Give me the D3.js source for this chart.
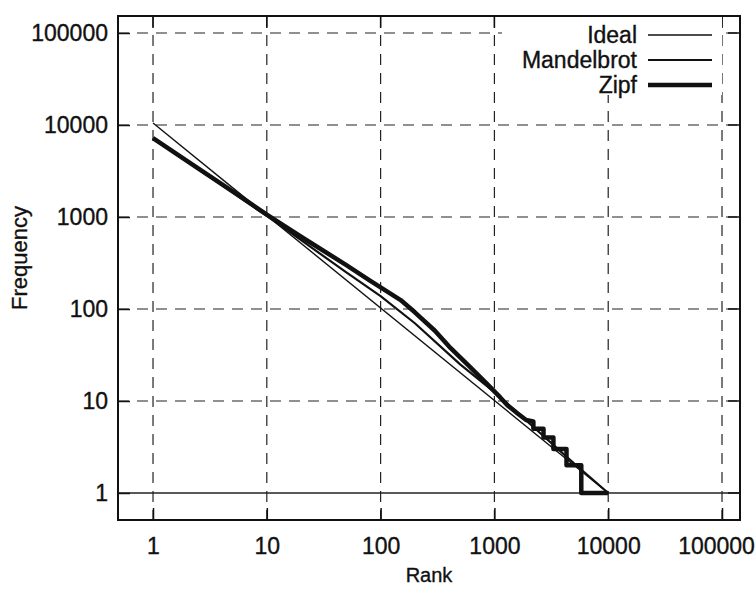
<!DOCTYPE html>
<html>
<head>
<meta charset="utf-8">
<script src="https://cdn.jsdelivr.net/npm/d3@7"></script>
<style>
  body { margin: 0; background: #fff; }
  text { font-family: "Liberation Sans", Arial, sans-serif; fill: #111; stroke: #111; stroke-width: 0.35px; }
</style>
</head>
<body>
<div id="chart"></div>
<script>
// chart data
var tickValues = [1, 10, 100, 1000, 10000, 100000];
var tickLabels = ["1", "10", "100", "1000", "10000", "100000"];

var idealRank = [1, 10000];
var idealFreq = [10500, 1];

var mandelRank = [1, 2, 5, 10, 20, 50, 100, 200, 500, 1000, 2000, 5000, 10000];
var mandelFreq = [7200, 4000, 1850, 1030, 560, 250, 138, 70, 25, 12.5, 5.8, 2.1, 1];

var zipfRank = [1, 2, 5, 10, 20, 50, 80, 100, 150, 200, 300, 400, 600, 900, 1120, 1300, 1600, 1900,
                2200, 2200, 2700, 2700, 3300, 3300, 4300, 4300, 5800, 5800, 10000];
var zipfFreq = [7200, 4050, 1900, 1060, 610, 300, 205, 172, 125, 92, 58, 39, 24, 14.5, 11, 9, 7.3, 6.2,
                6, 5, 5, 4, 4, 3, 3, 2, 2, 1, 1];

var seriesNames = ["Ideal", "Mandelbrot", "Zipf"];
var seriesWidth = [1.4, 2.2, 4.5];

var width = 755,
    height = 590;

// plot frame in pixels
var plotLeft = 118, plotRight = 740, plotTop = 16, plotBottom = 520;

var svg = d3.select("#chart")
  .append("svg")
    .attr("width", width)
    .attr("height", height);

// log scales; decades sit at fixed pixel spots of the picture
var x = d3.scaleLog()
    .domain([0.4924, 143900])
    .range([plotLeft, plotRight]);

var y = d3.scaleLog()
    .domain([0.5086, 153000])
    .range([plotBottom, plotTop]);

// dashed grid
svg.append("g")
  .selectAll("line")
  .data(tickValues)
  .enter()
  .append("line")
    .attr("x1", function(d) { return x(d); })
    .attr("x2", function(d) { return x(d); })
    .attr("y1", plotTop)
    .attr("y2", plotBottom)
    .attr("stroke", "#222")
    .attr("stroke-width", 1.2)
    .attr("stroke-dasharray", "11,8");

svg.append("g")
  .selectAll("line")
  .data(tickValues)
  .enter()
  .append("line")
    .attr("x1", plotLeft)
    .attr("x2", plotRight)
    .attr("y1", function(d) { return y(d); })
    .attr("y2", function(d) { return y(d); })
    .attr("stroke", "#222")
    .attr("stroke-width", function(d) { return d == 1 ? 1.6 : 1.2; })
    .attr("stroke-dasharray", function(d) { return d == 1 ? null : "11,8"; });

// axes with inward ticks
var xAxis = d3.axisBottom(x)
    .tickValues(tickValues)
    .tickFormat(function(d, i) { return tickLabels[i]; })
    .tickSize(-12)
    .tickPadding(18);

var yAxis = d3.axisLeft(y)
    .tickValues(tickValues)
    .tickFormat(function(d, i) { return tickLabels[i]; })
    .tickSize(-12)
    .tickPadding(10);

var gx = svg.append("g")
    .attr("transform", "translate(0," + plotBottom + ")")
    .call(xAxis);
var gy = svg.append("g")
    .attr("transform", "translate(" + plotLeft + ",0)")
    .call(yAxis);

[gx, gy].forEach(function(g) {
  g.select(".domain").remove();
  g.selectAll(".tick line").attr("stroke", "#111").attr("stroke-width", 1.5);
  g.selectAll(".tick text")
    .style("font-size", "23px")
    .attr("fill", "#111");
});

// last x label is pushed in so it stays on the page
gx.selectAll(".tick text")
    .attr("dx", function(d, i) { return i == tickValues.length - 1 ? -6 : 0; });

// mirrored ticks on top and right
svg.append("g")
  .selectAll("line")
  .data(tickValues)
  .enter()
  .append("line")
    .attr("x1", function(d) { return x(d); })
    .attr("x2", function(d) { return x(d); })
    .attr("y1", plotTop)
    .attr("y2", plotTop + 12)
    .attr("stroke", "#111")
    .attr("stroke-width", 1.5);

svg.append("g")
  .selectAll("line")
  .data(tickValues)
  .enter()
  .append("line")
    .attr("x1", plotRight)
    .attr("x2", plotRight - 12)
    .attr("y1", function(d) { return y(d); })
    .attr("y2", function(d) { return y(d); })
    .attr("stroke", "#111")
    .attr("stroke-width", 1.5);

// the three curves
var line = d3.line()
    .x(function(d) { return x(d[0]); })
    .y(function(d) { return y(d[1]); });

var series = [
  d3.zip(idealRank, idealFreq),
  d3.zip(mandelRank, mandelFreq),
  d3.zip(zipfRank, zipfFreq)
];

svg.append("g")
  .selectAll("path")
  .data(series)
  .enter()
  .append("path")
    .attr("d", line)
    .attr("fill", "none")
    .attr("stroke", "#111")
    .attr("stroke-width", function(d, i) { return seriesWidth[i]; })
    .attr("stroke-linejoin", "round");

// opaque legend box hides the grid behind it
svg.append("rect")
    .attr("x", 502)
    .attr("y", plotTop + 1)
    .attr("width", 220)
    .attr("height", 78)
    .attr("fill", "#fff");

var legend = svg.append("g")
  .selectAll("g")
  .data(seriesNames)
  .enter()
  .append("g")
    .attr("transform", function(d, i) { return "translate(0," + (35 + i * 25) + ")"; });

legend.append("text")
    .attr("x", 637)
    .attr("dy", "0.35em")
    .attr("text-anchor", "end")
    .style("font-size", "23px")
    .text(function(d) { return d; });

legend.append("line")
    .attr("x1", 648)
    .attr("x2", 712)
    .attr("stroke", "#111")
    .attr("stroke-width", function(d, i) { return seriesWidth[i]; });

// frame
svg.append("rect")
    .attr("x", plotLeft)
    .attr("y", plotTop)
    .attr("width", plotRight - plotLeft)
    .attr("height", plotBottom - plotTop)
    .attr("fill", "none")
    .attr("stroke", "#111")
    .attr("stroke-width", 2);

// axis titles
svg.append("text")
    .attr("x", (plotLeft + plotRight) / 2)
    .attr("y", 582)
    .attr("text-anchor", "middle")
    .style("font-size", "20px")
    .text("Rank");

svg.append("text")
    .attr("transform", "translate(27," + ((plotTop + plotBottom) / 2 - 10) + ") rotate(-90)")
    .attr("text-anchor", "middle")
    .style("font-size", "22px")
    .text("Frequency");
</script>
</body>
</html>
